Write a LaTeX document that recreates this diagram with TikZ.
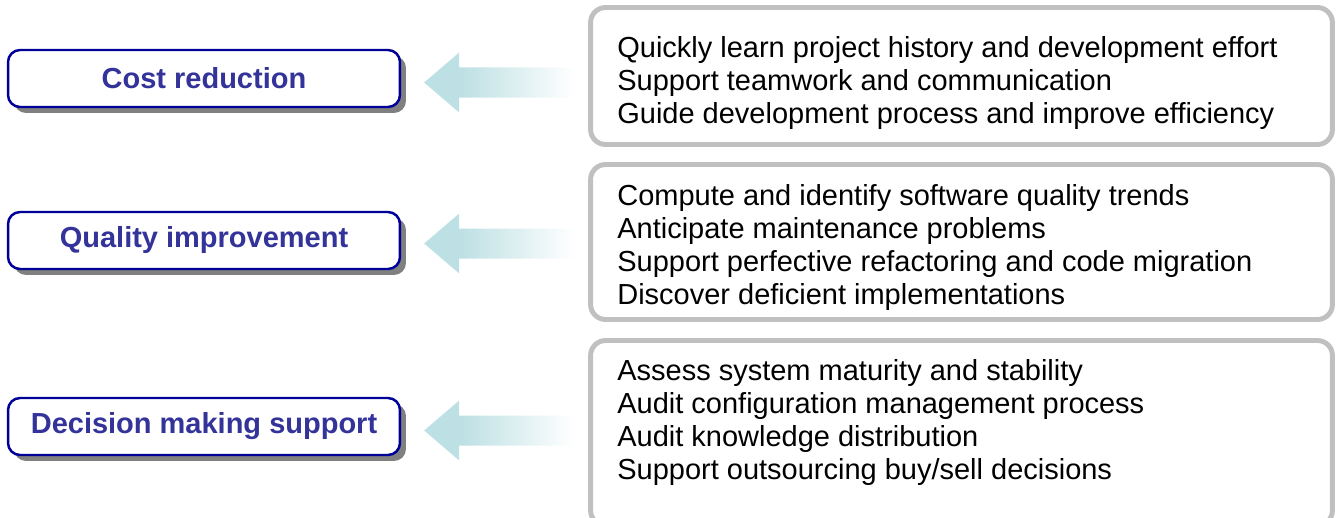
\documentclass[tikz,border=0pt]{standalone}
\usepackage{fontspec}
\setmainfont{Liberation Sans}
\usetikzlibrary{calc}
\usetikzlibrary{shadows}
\definecolor{goaltext}{RGB}{51,51,153}
\definecolor{goalline}{RGB}{0,0,153}
\definecolor{listline}{RGB}{192,192,192}
\definecolor{arrowteal}{RGB}{189,224,228}
\definecolor{shadowgray}{RGB}{128,128,128}
\pgfdeclarehorizontalshading{fadearrow}{100bp}{color(0bp)=(arrowteal); color(37bp)=(arrowteal); color(75bp)=(white); color(100bp)=(white)}
\newcommand{\listsize}{\fontsize{16.5}{18.8}\selectfont}

\begin{document}
\begin{tikzpicture}[x=0.02cm,y=-0.02cm]
\tikzstyle{goal}=[draw=goalline, line width=1.4pt, fill=white, rectangle, rounded corners=0.24cm, minimum width=7.84cm, minimum height=1.14cm, text=goaltext, font=\listsize\bfseries, drop shadow={shadow xshift=0.12cm, shadow yshift=-0.12cm, fill=shadowgray, opacity=1}]
\tikzstyle{listbox}=[draw=listline, line width=2.8pt, fill=white, rectangle, rounded corners=0.3cm, minimum width=14.84cm]
\tikzstyle{listtext}=[anchor=west, align=left, inner sep=0pt, font=\listsize]
\tikzstyle{fade}=[shading=fadearrow, draw=none]
\useasboundingbox (0,0) rectangle (1337,517);

% Goals on the left
\node[goal] (cost) at (204,78.5) {Cost reduction};
\node[goal] (quality) at (204,240.5) {Quality improvement};
\node[goal] (decision) at (204,426.5) {Decision making support};

% Boxes on the right
\node[listbox, minimum height=2.74cm] (costbox) at (961.5,76) {};
\node[listbox, minimum height=3.1cm] (qualitybox) at (961.5,242) {};
\node[listbox, minimum height=3.7cm] (decisionbox) at (961.5,433) {};

\node[listtext] (costlist) at (617,83) {Quickly learn project history and development effort\\Support teamwork and communication\\Guide development process and improve efficiency};
\node[listtext] (qualitylist) at (617,247.5) {Compute and identify software quality trends\\Anticipate maintenance problems\\Support perfective refactoring and code migration\\Discover deficient implementations};
\node[listtext] (decisionlist) at (617,422.5) {Assess system maturity and stability\\Audit configuration management process\\Audit knowledge distribution\\Support outsourcing buy/sell decisions};

% fading arrows, tip next to each goal
\coordinate (costtip) at ($(cost.east)+(23,4)$);
\coordinate (qualitytip) at ($(quality.east)+(23,3)$);
\coordinate (decisiontip) at ($(decision.east)+(23,4)$);
\shade[fade] (costtip) -- ++(35,-30) -- ++(0,15) -- ++(115,0) -- ++(0,30) -- ++(-115,0) -- ++(0,15) -- cycle;
\shade[fade] (qualitytip) -- ++(35,-30) -- ++(0,15) -- ++(115,0) -- ++(0,30) -- ++(-115,0) -- ++(0,15) -- cycle;
\shade[fade] (decisiontip) -- ++(35,-30) -- ++(0,15) -- ++(115,0) -- ++(0,30) -- ++(-115,0) -- ++(0,15) -- cycle;

\end{tikzpicture}
\end{document}
